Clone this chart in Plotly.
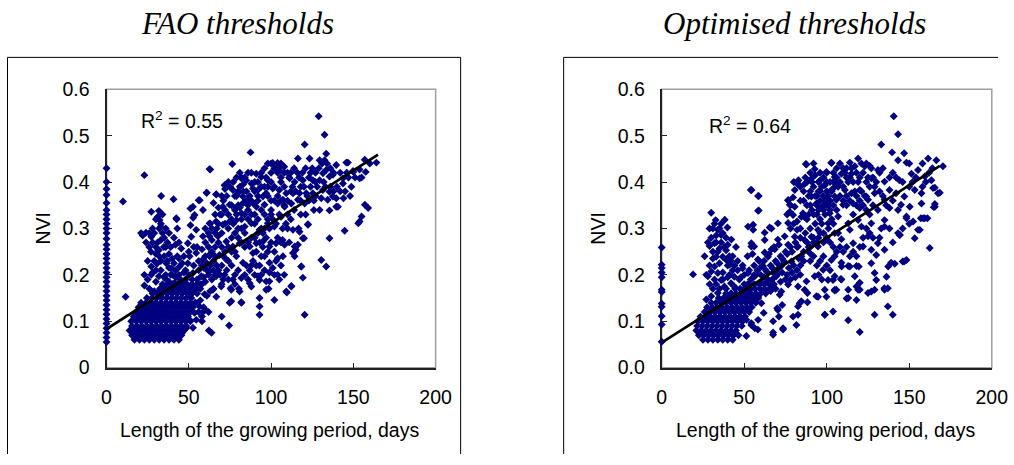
import plotly.graph_objects as go

W, H = 1014, 465

# ---------------- data ----------------
# solid cluster of short growing periods: (NVI, [LGP values along that row])
fao_cluster_rows = [
    (0.060, [17, 20, 23, 26, 29, 32, 35, 38, 41, 44]),
    (0.070, [15.5, 18.5, 21.5, 24.5, 27.5, 30.5, 33.5, 36.5, 39.5, 42.5, 45.5]),
    (0.080, [14, 17, 20, 23, 26, 29, 32, 35, 38, 41, 44, 47]),
    (0.090, [15.5, 18.5, 21.5, 24.5, 27.5, 30.5, 33.5, 36.5, 39.5, 42.5, 45.5, 48.5]),
    (0.100, [15, 18, 21, 24, 27, 30, 33, 36, 39, 42, 45, 48, 51]),
    (0.110, [16.5, 19.5, 22.5, 25.5, 28.5, 31.5, 34.5, 37.5, 40.5, 43.5, 46.5, 49.5]),
    (0.120, [18, 21, 24, 27, 30, 33, 36, 39, 42, 45, 48, 51]),
    (0.130, [19.5, 22.5, 25.5, 28.5, 31.5, 34.5, 37.5, 40.5, 43.5, 46.5, 49.5, 52.5]),
    (0.140, [21, 24, 27, 30, 33, 36, 39, 42, 45, 48, 51, 54]),
    (0.150, [24.5, 27.5, 30.5, 33.5, 36.5, 39.5, 42.5, 45.5, 48.5, 51.5]),
    (0.160, [28, 31, 34, 37, 40, 43, 46, 49, 52, 55]),
    (0.170, [32.5, 35.5, 38.5, 41.5, 44.5, 47.5, 50.5, 53.5]),
    (0.180, [37, 40, 43, 46, 49, 52, 55, 58]),
]
opt_cluster_rows = [
    (0.060, [25, 28, 31, 34, 37, 40, 43]),
    (0.070, [22.5, 25.5, 28.5, 31.5, 34.5, 37.5, 40.5, 43.5, 46.5]),
    (0.080, [21, 24, 27, 30, 33, 36, 39, 42, 45]),
    (0.090, [21.5, 24.5, 27.5, 30.5, 33.5, 36.5, 39.5, 42.5, 45.5, 48.5]),
    (0.100, [22, 25, 28, 31, 34, 37, 40, 43, 46, 49]),
    (0.110, [23.5, 26.5, 29.5, 32.5, 35.5, 38.5, 41.5, 44.5, 47.5, 50.5]),
    (0.120, [26, 29, 32, 35, 38, 41, 44, 47, 50, 53]),
    (0.130, [27.5, 30.5, 33.5, 36.5, 39.5, 42.5, 45.5, 48.5, 51.5, 54.5]),
    (0.140, [30, 33, 36, 39, 42, 45, 48, 51, 54, 57]),
    (0.150, [34.5, 37.5, 40.5, 43.5, 46.5, 49.5, 52.5, 55.5, 58.5]),
    (0.160, [39, 42, 45, 48, 51, 54, 57, 60, 63]),
    (0.170, [44.5, 47.5, 50.5, 53.5, 56.5, 59.5, 62.5, 65.5]),
    (0.180, [50, 53, 56, 59, 62, 65, 68]),
]

fao_points = [
    # LGP = 0 column
    (0, 0.43), (0, 0.40), (0, 0.385), (0, 0.372), (0, 0.355), (0, 0.34), (0, 0.33), (0, 0.32), (0, 0.31), (0, 0.30),
    (0, 0.29), (0, 0.278), (0, 0.265), (0, 0.255), (0, 0.245), (0, 0.235), (0, 0.225), (0, 0.215), (0, 0.205), (0, 0.195),
    (0, 0.185), (0, 0.175), (0, 0.165), (0, 0.155), (0, 0.145), (0, 0.135), (0, 0.125), (0, 0.115), (0, 0.105), (0, 0.095),
    (0, 0.085), (0, 0.075), (0, 0.065), (0, 0.055),
    # isolated low-LGP points
    (10, 0.358), (11.6, 0.153), (23, 0.415), (23, 0.177), (21, 0.29),
    # spike above the cluster (LGP 20-55)
    (27.2, 0.336), (31.8, 0.338), (42.6, 0.32), (51, 0.343), (24, 0.291), (27.2, 0.282), (32.2, 0.318), (33, 0.304),
    (33, 0.275), (41.9, 0.265), (29.8, 0.246), (31.8, 0.253), (34.8, 0.26), (27.2, 0.218), (30.6, 0.224), (36.3, 0.225),
    (39.3, 0.214), (44.4, 0.218), (49.4, 0.225), (27.2, 0.2), (31.8, 0.197), (36.3, 0.19), (41.4, 0.183), (28.2, 0.161),
    (34.3, 0.164), (45.4, 0.257), (49.4, 0.268), (51.5, 0.282), (51, 0.307), (52.6, 0.323), (33.2, 0.37), (40.7, 0.363),
    (25, 0.19), (28, 0.205), (30, 0.185), (33, 0.21), (35, 0.195), (37, 0.23), (39, 0.2), (42, 0.21), (45, 0.19), (47, 0.205),
    (29, 0.23), (31, 0.27), (34, 0.29), (33, 0.31), (32, 0.3), (35, 0.24), (36, 0.26), (38, 0.245), (40, 0.235), (26, 0.26),
    (24, 0.27), (22, 0.285), (30, 0.32), (31, 0.325), (34, 0.33), (28, 0.3), (27, 0.25), (43, 0.24), (46, 0.225), (48, 0.21),
    (42.4, 0.322), (46, 0.075), (48.4, 0.085), (50.5, 0.103), (53.5, 0.118), (56.5, 0.132),
    (36, 0.2), (38, 0.185), (40, 0.2), (42, 0.195), (44, 0.2), (46, 0.185), (48, 0.19), (50, 0.2), (38, 0.215), (41, 0.225),
    (44, 0.235), (47, 0.24), (50, 0.25), (53, 0.26), (37, 0.165), (40, 0.17), (43, 0.18), (46, 0.165), (49, 0.175), (52, 0.19),
    (23, 0.2), (25, 0.23), (26, 0.29), (28, 0.27), (29, 0.29), (30, 0.26), (32, 0.24), (33, 0.23), (35, 0.28), (36, 0.3),
    (37, 0.27), (38, 0.29), (39, 0.26), (41, 0.28), (43, 0.3), (44, 0.27), (30, 0.21), (34, 0.18), (26, 0.17), (29, 0.165),
    # LGP 50-70
    (52, 0.18), (55, 0.19), (57, 0.17), (60, 0.185), (62, 0.2), (64, 0.19), (53, 0.22), (56, 0.23), (59, 0.215), (61, 0.225),
    (63, 0.245), (65, 0.23), (55, 0.26), (58, 0.255), (60, 0.27), (62, 0.29), (64, 0.275), (66, 0.26), (51, 0.15), (54, 0.14),
    (57, 0.145), (59, 0.13), (61, 0.155), (63, 0.165), (65, 0.17), (56, 0.12), (58, 0.11), (60, 0.125), (62, 0.12), (50, 0.135),
    (62.6, 0.428), (60.8, 0.377), (56, 0.361), (66.7, 0.373), (58, 0.1), (63.8, 0.075), (62.2, 0.08), (66.7, 0.153),
    (56, 0.21), (58, 0.22), (60, 0.24), (62, 0.26), (64, 0.25), (66, 0.24), (68, 0.27), (70, 0.26), (57, 0.18), (59, 0.195),
    (61, 0.21), (63, 0.22), (65, 0.21), (67, 0.22), (69, 0.2), (71, 0.24), (60, 0.3), (63, 0.31), (66, 0.33), (68, 0.345),
    (65, 0.355), (70, 0.37), (72, 0.385), (74, 0.4),
    (64, 0.3), (66, 0.29), (68, 0.31), (70, 0.33), (72, 0.34), (74, 0.33), (76, 0.35), (78, 0.37), (80, 0.38), (82, 0.41),
    (66, 0.2), (70, 0.18), (74, 0.19), (78, 0.18), (84, 0.2), (86, 0.19), (88, 0.22), (90, 0.2), (94, 0.2), (96, 0.24),
    # LGP 50-110 (middle band)
    (87.5, 0.464), (63, 0.427), (76.4, 0.439), (101, 0.441), (104, 0.441), (106, 0.436), (81.9, 0.408), (84.9, 0.404),
    (88, 0.397), (91, 0.418), (94, 0.411), (98, 0.404), (71.7, 0.393), (60.9, 0.377), (66.6, 0.374), (56.6, 0.361),
    (52.5, 0.347), (58.6, 0.34), (53.5, 0.329), (76.8, 0.383), (79.8, 0.376), (82.9, 0.369), (86, 0.361), (89, 0.386),
    (92, 0.383), (95, 0.369), (97, 0.376), (101, 0.386), (105, 0.383), (70.7, 0.347), (74.8, 0.351), (78.9, 0.344),
    (82, 0.333), (86, 0.34), (91, 0.347), (96, 0.351), (100, 0.34), (104, 0.354), (62.6, 0.311), (66.6, 0.315),
    (70.7, 0.308), (74.8, 0.315), (78.9, 0.318), (84, 0.304), (88, 0.311), (93, 0.297), (98, 0.311), (102, 0.304),
    (106, 0.325), (54.5, 0.297), (58.6, 0.283), (62.6, 0.283), (67.7, 0.283), (72.8, 0.272), (76.8, 0.261), (80.9, 0.268),
    (87, 0.261), (91, 0.268), (95, 0.272), (99, 0.261), (103, 0.268), (107, 0.275), (50.5, 0.24), (54.5, 0.247),
    (58.6, 0.233), (62.6, 0.24), (68.7, 0.243), (72.8, 0.233), (78.9, 0.24), (82.9, 0.226), (89, 0.247), (94, 0.24),
    (99, 0.226), (104, 0.236), (52.5, 0.204), (57.6, 0.197), (62.6, 0.207), (66.6, 0.197), (71.7, 0.2), (76.8, 0.19),
    (81.9, 0.193), (87, 0.182), (92, 0.197), (97, 0.186), (102, 0.2), (54.5, 0.168), (59.6, 0.158), (64.6, 0.168),
    (69.7, 0.175), (75.8, 0.168), (80.9, 0.164), (88, 0.175), (93, 0.189), (99, 0.186), (104, 0.2), (97, 0.168),
    (93, 0.15), (93, 0.132), (93, 0.114), (102, 0.146), (75.8, 0.143), (81.9, 0.141), (70, 0.11), (74.5, 0.091),
    (58.6, 0.12), (54.5, 0.103), (52.5, 0.086), (109.6, 0.162), (112.3, 0.176), (74.8, 0.14), (82, 0.14),
    (75.4, 0.171), (80.4, 0.17), (98.5, 0.17),
    (68, 0.21), (70, 0.22), (72, 0.25), (74, 0.23), (76, 0.22), (78, 0.25), (80, 0.28), (82, 0.3), (84, 0.29), (86, 0.32),
    (88, 0.33), (90, 0.31), (67, 0.3), (69, 0.33), (71, 0.36), (73, 0.37), (75, 0.39), (77, 0.4), (79, 0.41), (81, 0.42),
    (83, 0.395), (85, 0.38), (87, 0.37), (89, 0.355), (70, 0.29), (72, 0.31), (74, 0.3), (76, 0.32), (78, 0.34), (80, 0.35),
    (92, 0.36), (94, 0.34), (96, 0.33), (98, 0.37), (100, 0.36), (102, 0.39), (104, 0.42), (106, 0.41), (108, 0.39), (103, 0.43),
    (100, 0.42), (97, 0.41), (95, 0.29), (97, 0.28), (99, 0.3), (101, 0.32), (103, 0.31), (105, 0.33), (107, 0.3), (109, 0.31),
    (91, 0.25), (93, 0.27), (95, 0.26), (98, 0.25), (100, 0.27), (102, 0.25), (104, 0.28), (106, 0.27), (93, 0.22), (96, 0.21),
    (99, 0.205), (101, 0.215), (103, 0.23), (106, 0.22), (108, 0.2), (110, 0.36), (112, 0.38), (110, 0.33), (111, 0.41), (113, 0.39),
    (76, 0.28), (78, 0.29), (80, 0.3), (82, 0.32), (84, 0.33), (86, 0.35), (88, 0.36), (90, 0.38), (92, 0.4), (94, 0.42),
    (96, 0.43), (98, 0.44), (100, 0.44), (102, 0.43), (84, 0.41), (86, 0.42), (88, 0.42), (90, 0.4), (92, 0.37), (94, 0.39),
    (96, 0.39), (98, 0.39), (100, 0.4), (106, 0.4), (108, 0.42), (110, 0.42), (90, 0.33), (92, 0.32), (94, 0.3), (96, 0.3),
    (98, 0.32), (100, 0.33), (102, 0.36), (104, 0.37), (106, 0.36), (108, 0.35), (82, 0.27), (84, 0.26), (86, 0.27), (88, 0.28),
    (90, 0.28), (92, 0.29), (85, 0.22), (87, 0.21), (89, 0.23), (91, 0.22), (80, 0.21), (78, 0.2), (76, 0.25), (74, 0.26),
    (73, 0.21), (71, 0.19), (77, 0.31), (79, 0.33), (81, 0.345), (83, 0.355), (85, 0.36), (79, 0.37), (81, 0.39), (83, 0.38),
    # LGP 105-165
    (128.9, 0.542), (132.5, 0.502), (120.4, 0.481), (116.3, 0.451), (123.4, 0.451), (129.5, 0.447), (132.5, 0.447),
    (133.5, 0.461), (106, 0.44), (108, 0.433), (105, 0.426), (139.6, 0.437), (145.7, 0.442), (149.8, 0.424),
    (153.8, 0.427), (156.9, 0.448), (164, 0.442), (157.5, 0.422), (131.5, 0.419), (133.5, 0.426), (135.5, 0.412),
    (137.6, 0.416), (129.5, 0.404), (125.4, 0.404), (119.3, 0.404), (114.3, 0.4), (111.3, 0.408), (143.7, 0.397),
    (148.8, 0.39), (153.8, 0.408), (143.7, 0.408), (131.5, 0.383), (135.5, 0.379), (137.6, 0.369), (130.5, 0.365),
    (125.4, 0.376), (121.4, 0.376), (117.3, 0.376), (113.3, 0.376), (109.2, 0.376), (107.2, 0.362), (134.4, 0.362),
    (139.6, 0.365), (140.6, 0.347), (135.5, 0.339), (129.5, 0.34), (120.4, 0.354), (116.3, 0.362), (112.3, 0.354),
    (108.2, 0.347), (157, 0.351), (159, 0.344), (155, 0.326), (153.8, 0.315), (153, 0.311), (144.7, 0.295),
    (135.5, 0.279), (122.4, 0.308), (117.3, 0.293), (113.3, 0.297), (119.3, 0.279), (114.3, 0.261), (108.2, 0.265),
    (107.2, 0.24), (113.3, 0.247), (114.3, 0.24), (116.3, 0.265), (130.5, 0.232), (133.5, 0.218), (118.3, 0.218),
    (119.3, 0.194), (105, 0.19), (109.2, 0.164), (112.3, 0.175), (120.4, 0.114), (116.7, 0.3), (120, 0.279),
    (122.4, 0.309), (115, 0.254), (118.4, 0.218), (144, 0.365), (139.6, 0.347), (147, 0.41), (150, 0.422), (146.7, 0.442),
    (112, 0.42), (114, 0.43), (116, 0.42), (118, 0.39), (120, 0.39), (122, 0.37), (124, 0.39), (126, 0.36), (128, 0.39),
    (127, 0.42), (124, 0.42), (140, 0.39), (142, 0.42), (146, 0.42), (151, 0.41), (155, 0.41), (160, 0.44), (110, 0.3),
    (112, 0.32), (114, 0.34), (111, 0.27), (118, 0.33), (121, 0.33), (126, 0.34), (132, 0.4), (136, 0.39),
    (115, 0.38), (117, 0.41), (119, 0.42), (121, 0.43), (123, 0.41), (125, 0.43), (127, 0.4), (129, 0.43), (131, 0.44),
    (134, 0.44), (136, 0.43), (138, 0.42), (118, 0.36), (123, 0.36), (127, 0.37), (133, 0.39), (138, 0.38), (142, 0.38),
    (145, 0.38), (148, 0.37),
]

opt_points = [
    # LGP = 0 column
    (0, 0.259), (0, 0.222), (0, 0.215), (0, 0.205), (0, 0.195), (0, 0.168), (0, 0.163), (0, 0.138), (0, 0.131),
    (0, 0.111), (0, 0.093), (0, 0.056),
    (19, 0.201),
    # spike above the cluster (LGP 25-50)
    (30, 0.334), (32.7, 0.318), (38.2, 0.319), (39.8, 0.302), (34, 0.297), (36, 0.286), (42.2, 0.276), (29, 0.262),
    (32, 0.268), (35, 0.257), (37, 0.239), (39.2, 0.232), (41.2, 0.222), (32, 0.218), (30, 0.207), (28, 0.197),
    (34, 0.204), (36, 0.189), (38, 0.175), (42, 0.182), (27, 0.147), (30, 0.154), (34, 0.161), (33, 0.239),
    (39, 0.253), (44, 0.196), (49, 0.214), (31, 0.235), (35, 0.225), (37, 0.205), (40, 0.195), (29, 0.18), (32, 0.19),
    (36, 0.27), (33, 0.285), (31, 0.3), (40, 0.265), (43, 0.24), (46, 0.21), (48, 0.195),
    (45, 0.15), (48, 0.16), (50, 0.17), (52, 0.18), (54, 0.19), (56, 0.2), (58, 0.21), (44, 0.175), (47, 0.19), (50, 0.2),
    (53, 0.21), (56, 0.22), (59, 0.23), (46, 0.23), (49, 0.22), (52, 0.24), (55, 0.245), (43, 0.21), (41, 0.24), (45, 0.26),
    (28, 0.27), (29, 0.3), (30, 0.28), (31, 0.25), (32, 0.31), (33, 0.27), (34, 0.25), (35, 0.3), (36, 0.31), (37, 0.29),
    (38, 0.26), (39, 0.28), (40, 0.22), (41, 0.2), (42, 0.23), (44, 0.22), (29, 0.22), (31, 0.17), (33, 0.18), (35, 0.17),
    (37, 0.19), (39, 0.17), (42, 0.16), (27, 0.2), (26, 0.24),
    # LGP 50-110
    (54, 0.383), (58.4, 0.37), (58.4, 0.338), (87.7, 0.438), (102.8, 0.442), (82.2, 0.4), (82.6, 0.394), (80.6, 0.383),
    (76.6, 0.361), (77.6, 0.336), (79.6, 0.329), (84.6, 0.325), (66.5, 0.3), (62.4, 0.275), (55.4, 0.297), (56, 0.261),
    (54.3, 0.261), (64.4, 0.239), (60.4, 0.218), (68.5, 0.255), (67.5, 0.205), (70, 0.211),
    (98.8, 0.114), (94.7, 0.153), (99.8, 0.153), (104.8, 0.166), (100.8, 0.189), (103.8, 0.189), (108.5, 0.191),
    (81.6, 0.092), (82.6, 0.114), (82.6, 0.132), (84.6, 0.143), (88.3, 0.141), (73.5, 0.082), (67.5, 0.076),
    (67.5, 0.1), (71, 0.11), (70, 0.128), (73, 0.135), (71.5, 0.157), (56.4, 0.085), (58.4, 0.103), (51.3, 0.103),
    (54.3, 0.092), (61.8, 0.118), (60.4, 0.139),
    (87.3, 0.439), (92.7, 0.428), (102.8, 0.441), (99.8, 0.422), (82.9, 0.404), (86.6, 0.396), (54.4, 0.383),
    (58.8, 0.37), (58.8, 0.339), (76.6, 0.361), (79.6, 0.367), (77.6, 0.351), (80.6, 0.347), (85.6, 0.333),
    (90.7, 0.407), (95.7, 0.403), (98.8, 0.393), (102.8, 0.383), (105.8, 0.397), (90.7, 0.369), (93.7, 0.354),
    (96.7, 0.344), (101.8, 0.333), (105.8, 0.362), (52.3, 0.304), (55.4, 0.308), (54.3, 0.268), (62.4, 0.291),
    (65.4, 0.302), (70.4, 0.311), (76.6, 0.312), (82, 0.297), (86.6, 0.325), (74.5, 0.283), (70.4, 0.276),
    (66.5, 0.255), (62.4, 0.248), (58.3, 0.233), (61.4, 0.219), (52.3, 0.204), (56.4, 0.197), (60.4, 0.183),
    (64.4, 0.19), (69.4, 0.197), (72.5, 0.219), (78.6, 0.229), (84.6, 0.24), (89.7, 0.247), (94.7, 0.261),
    (99.8, 0.276), (104.8, 0.29), (82.6, 0.261), (86.6, 0.275), (90.7, 0.282), (94.7, 0.297), (100.8, 0.311),
    (80.6, 0.282), (76.6, 0.265), (53.3, 0.168), (58.3, 0.154), (62.4, 0.168), (67.5, 0.175), (72.5, 0.164),
    (76.6, 0.179), (82.6, 0.175), (87.7, 0.186), (92.7, 0.197), (97.8, 0.211), (102.8, 0.232), (86.6, 0.168),
    (83.6, 0.139), (88.3, 0.161), (93.7, 0.154), (98.8, 0.168), (104.8, 0.197), (105.8, 0.168), (98.8, 0.114),
    (103.8, 0.121), (70.4, 0.124), (73.5, 0.085), (79.6, 0.11), (67.5, 0.071), (54.3, 0.096), (58.3, 0.082),
    (51.3, 0.068),
    (60, 0.2), (63, 0.21), (66, 0.22), (69, 0.23), (72, 0.24), (75, 0.25), (78, 0.26), (81, 0.27), (84, 0.28), (87, 0.29),
    (90, 0.3), (93, 0.31), (96, 0.32), (99, 0.33), (102, 0.34), (62, 0.23), (65, 0.245), (68, 0.26), (71, 0.265), (74, 0.23),
    (77, 0.215), (80, 0.22), (83, 0.235), (86, 0.25), (89, 0.26), (92, 0.27), (95, 0.28), (98, 0.29), (101, 0.3), (104, 0.31),
    (88, 0.35), (90, 0.38), (92, 0.39), (94, 0.37), (96, 0.36), (98, 0.35), (100, 0.38), (102, 0.4), (104, 0.42), (106, 0.43),
    (108, 0.44), (110, 0.43), (112, 0.41), (88, 0.32), (91, 0.34), (94, 0.33), (97, 0.31), (100, 0.36), (95, 0.4), (93, 0.415),
    (62, 0.195), (64, 0.205), (67, 0.215), (70, 0.225), (73, 0.235), (76, 0.245), (79, 0.25), (82, 0.26), (64, 0.185), (67, 0.19),
    (70, 0.2), (73, 0.205), (76, 0.2), (79, 0.205), (82, 0.21), (84, 0.22), (86, 0.23), (66, 0.165), (69, 0.17), (72, 0.185),
    (75, 0.19), (78, 0.19), (81, 0.195), (84, 0.2), (78, 0.3), (80, 0.31), (82, 0.315), (84, 0.3), (76, 0.33), (78, 0.35),
    (84, 0.36), (86, 0.38), (84, 0.39), (88, 0.4), (80, 0.4),
    (86, 0.36), (87, 0.41), (89, 0.37), (90, 0.35), (91, 0.4), (93, 0.37), (94, 0.35), (95, 0.38), (97, 0.39), (99, 0.36),
    (100, 0.4), (101, 0.37), (103, 0.38), (105, 0.39), (89, 0.33), (92, 0.33), (95, 0.34), (98, 0.34), (101, 0.35), (103, 0.32),
    (90, 0.42), (92, 0.44), (96, 0.42), (98, 0.41), (100, 0.42), (104, 0.4), (106, 0.41), (108, 0.4), (110, 0.39), (112, 0.43),
    (114, 0.41), (116, 0.4), (118, 0.42), (120, 0.41), (122, 0.42), (124, 0.4), (126, 0.39), (128, 0.41), (130, 0.4), (132, 0.38),
    (96, 0.38), (98, 0.37), (100, 0.35), (102, 0.36), (104, 0.35), (106, 0.34), (108, 0.37), (110, 0.36), (112, 0.35), (114, 0.36),
    (116, 0.33), (118, 0.35), (120, 0.36), (122, 0.35), (124, 0.34), (126, 0.33), (128, 0.35), (88, 0.27), (90, 0.26), (92, 0.28),
    (94, 0.27), (96, 0.29), (98, 0.27), (100, 0.28), (102, 0.27), (104, 0.26), (106, 0.25), (108, 0.26), (110, 0.25), (112, 0.26),
    (114, 0.24), (116, 0.25), (118, 0.24), (120, 0.26), (122, 0.28), (124, 0.3), (126, 0.29), (128, 0.28), (90, 0.23), (92, 0.24),
    (94, 0.22), (96, 0.23), (98, 0.24), (100, 0.22), (102, 0.21), (95, 0.2), (97, 0.19),
    # LGP 105-170
    (140.6, 0.542), (143.2, 0.503), (133, 0.481), (139.6, 0.464), (146.9, 0.462), (143.2, 0.447), (148.3, 0.442),
    (161.4, 0.451), (166.4, 0.447), (170.4, 0.434), (119, 0.451), (114, 0.442), (117, 0.434), (115, 0.418),
    (123, 0.434), (131, 0.426), (127, 0.408), (135, 0.401), (144, 0.404), (151.3, 0.418), (155.3, 0.426),
    (159.4, 0.412), (163.4, 0.404), (104.8, 0.411), (108.9, 0.418), (106.9, 0.39), (111, 0.383), (115, 0.376),
    (120, 0.383), (124, 0.369), (129, 0.376), (135, 0.362), (138, 0.383), (142, 0.376), (147, 0.369), (153.3, 0.383),
    (157.4, 0.376), (164.4, 0.387), (167.4, 0.376), (104.8, 0.369), (109.9, 0.351), (116, 0.354), (120, 0.344),
    (125, 0.362), (131, 0.34), (138, 0.344), (145, 0.351), (150.3, 0.347), (157.4, 0.354), (165.5, 0.347),
    (106.9, 0.326), (113, 0.311), (119, 0.318), (127, 0.311), (135, 0.318), (143.2, 0.34), (148.3, 0.326),
    (152.3, 0.315), (157, 0.322), (159.4, 0.322), (106.9, 0.29), (114, 0.297), (121, 0.304), (125, 0.283),
    (135, 0.304), (143.2, 0.29), (148.3, 0.322), (155.3, 0.297), (153.3, 0.279), (144.2, 0.286), (162.4, 0.258),
    (131, 0.268), (135, 0.254), (130, 0.243), (127, 0.225), (108.9, 0.277), (116, 0.268), (122, 0.261), (127, 0.254),
    (104.8, 0.24), (108.9, 0.226), (113, 0.219), (118, 0.219), (120, 0.183), (117, 0.197), (108.9, 0.19),
    (104.8, 0.168), (113, 0.168), (120, 0.168), (125, 0.161), (129, 0.168), (135, 0.168), (139, 0.226), (146, 0.229),
    (112, 0.149), (118, 0.146), (127, 0.164), (137, 0.132), (140, 0.114), (113, 0.102), (120, 0.077), (129, 0.114),
    (168.5, 0.377), (165.5, 0.388), (165.5, 0.353), (164.8, 0.346), (156.4, 0.297), (158.4, 0.322), (161, 0.322),
    (144.2, 0.286), (146.9, 0.229), (148.3, 0.232), (141.2, 0.224), (137.2, 0.218), (136.2, 0.196), (134.9, 0.171),
    (137, 0.171), (130, 0.189), (129, 0.204), (109, 0.218), (114, 0.218), (119.4, 0.218), (118, 0.175), (119, 0.168),
    (113, 0.15), (126, 0.435),
    (132, 0.42), (134, 0.43), (138, 0.41), (140, 0.42), (142, 0.41), (146, 0.4), (150, 0.39), (152, 0.4), (154, 0.41),
    (158, 0.39), (160, 0.4), (162, 0.42), (164, 0.43), (158, 0.44), (150, 0.44), (134, 0.37), (136, 0.35), (140, 0.36),
    (133, 0.3), (138, 0.3), (132, 0.28), (140, 0.27), (146, 0.3), (150, 0.31),
    (111, 0.42), (113, 0.4), (115, 0.43), (117, 0.38), (119, 0.4), (121, 0.38), (123, 0.37), (125, 0.41), (127, 0.43),
    (129, 0.39), (112, 0.37), (118, 0.37), (124, 0.44), (121, 0.44),
]

fao_lgp = [p[0] for p in fao_points] + [x for y, xs in fao_cluster_rows for x in xs]
fao_nvi = [p[1] for p in fao_points] + [y for y, xs in fao_cluster_rows for x in xs]
opt_lgp = [p[0] for p in opt_points] + [x for y, xs in opt_cluster_rows for x in xs]
opt_nvi = [p[1] for p in opt_points] + [y for y, xs in opt_cluster_rows for x in xs]

# linear trend lines (end points)
fao_fit_lgp = [0, 165]
fao_fit_nvi = [0.083, 0.459]
opt_fit_lgp = [0, 168.5]
opt_fit_nvi = [0.054, 0.435]

panel_titles = ["FAO thresholds", "Optimised thresholds"]
r2_labels = ["R<sup>2</sup> = 0.55", "R<sup>2</sup> = 0.64"]
x_title = "Length of the growing period, days"
y_title = "NVI"
x_ticks = [0, 50, 100, 150, 200]
y_ticks = [0, 0.1, 0.2, 0.3, 0.4, 0.5, 0.6]

# ---------------- layout helpers ----------------
# The photographed page is slightly scaled; these convert the wanted picture
# position (in picture pixels) to figure pixels.
SX, OX = 0.979, 5.5
SY, OY = 0.955, 10.5

def fx(t):
    return (t - OX) / SX

def fy(t):
    return (t - OY) / SY

def px(t):
    return min(max(fx(t) / W, -0.05), 1.05)

def py(t):
    return 1 - fy(t) / H

NAVY = "#000080"
SANS = "Liberation Sans, Arial, sans-serif"
SERIF = "Liberation Serif, Times New Roman, serif"

plot_left = [107, 662]
plot_right = [436, 992]
plot_top, plot_bottom = 89, 368

fig = go.Figure()

series = [(fao_lgp, fao_nvi, fao_fit_lgp, fao_fit_nvi), (opt_lgp, opt_nvi, opt_fit_lgp, opt_fit_nvi)]
for i, (xs, ys, lx, ly) in enumerate(series):
    xa = "x" if i == 0 else "x2"
    ya = "y" if i == 0 else "y2"
    fig.add_trace(go.Scatter(x=xs, y=ys, mode="markers", xaxis=xa, yaxis=ya,
                             marker=dict(symbol="diamond", size=6.1, color=NAVY, line=dict(width=0)),
                             cliponaxis=False, showlegend=False, hoverinfo="skip"))
    fig.add_trace(go.Scatter(x=lx, y=ly, mode="lines", xaxis=xa, yaxis=ya,
                             line=dict(color="black", width=2.7),
                             cliponaxis=False, showlegend=False, hoverinfo="skip"))

axis_common = dict(showgrid=False, zeroline=False, showline=True, linecolor="#222222", linewidth=2,
                   ticks="inside", ticklen=5, tickwidth=1, tickcolor="#222222", mirror=False,
                   tickfont=dict(family=SANS, size=19.5, color="black"), layer="below traces")

ydom = [py(plot_bottom), py(plot_top)]
fig.update_layout(
    width=W, height=H, autosize=False,
    margin=dict(l=0, r=0, t=0, b=0),
    paper_bgcolor="white", plot_bgcolor="white",
    xaxis=dict(domain=[px(plot_left[0]), px(plot_right[0])], range=[0, 200], tickvals=x_ticks,
               anchor="y", ticklabelstandoff=11, **axis_common),
    yaxis=dict(domain=ydom, range=[0, 0.6], tickvals=y_ticks, anchor="x",
               ticklabelstandoff=11, **axis_common),
    xaxis2=dict(domain=[px(plot_left[1]), px(plot_right[1])], range=[0, 200], tickvals=x_ticks,
                anchor="y2", ticklabelstandoff=11, **axis_common),
    yaxis2=dict(domain=ydom, range=[0, 0.6], tickvals=y_ticks, tickformat=".1f", anchor="x2",
                ticklabelstandoff=11, **axis_common),
)

def seg(x0, y0, x1, y1, color="black", width=1, layer="above"):
    return dict(type="line", xref="paper", yref="paper",
                x0=min(px(x0), 1), y0=max(py(y0), 0), x1=min(px(x1), 1), y1=max(py(y1), 0),
                line=dict(color=color, width=width), layer=layer)

shapes = [
    # outer frame of the left panel (bottom edge lies below the picture)
    seg(8, 57, 461, 57), seg(8, 57, 8, 470), seg(461, 57, 461, 470),
    # outer frame of the right panel (right and bottom edges lie outside the picture)
    seg(564, 57, 1020, 57), seg(564, 57, 564, 470),
]
# grey plot-area borders (top and right)
for i in range(2):
    shapes.append(dict(type="rect", xref="paper", yref="paper", x0=px(plot_left[i]), x1=px(plot_right[i]),
                       y0=py(plot_bottom), y1=py(plot_top), line=dict(color="#a0a0a0", width=1.5),
                       fillcolor="rgba(0,0,0,0)", layer="below"))
fig.update_layout(shapes=shapes)

annotations = []
title_cx = [238, 795]
xt_cx = [270, 825.5]
yt_cx = [43, 598]
r2_cx = [182.5, 750]
r2_cy = [120, 125]
for i in range(2):
    annotations.append(dict(text="<i>" + panel_titles[i] + "</i>", xref="paper", yref="paper",
                            x=px(title_cx[i]), y=py(23), xanchor="center", yanchor="middle", showarrow=False,
                            font=dict(family=SERIF, size=31, color="black")))
    annotations.append(dict(text=x_title, xref="paper", yref="paper", x=px(xt_cx[i]), y=py(431),
                            xanchor="center", yanchor="middle", showarrow=False,
                            font=dict(family=SANS, size=19.5, color="black")))
    annotations.append(dict(text=y_title, xref="paper", yref="paper", x=px(yt_cx[i]), y=py(228),
                            xanchor="center", yanchor="middle", showarrow=False, textangle=-90,
                            font=dict(family=SANS, size=19.5, color="black")))
    annotations.append(dict(text=r2_labels[i], xref="paper", yref="paper", x=px(r2_cx[i]), y=py(r2_cy[i]),
                            xanchor="center", yanchor="middle", showarrow=False,
                            font=dict(family=SANS, size=19.5, color="black")))
fig.update_layout(annotations=annotations)

fig.write_html("out.html")
